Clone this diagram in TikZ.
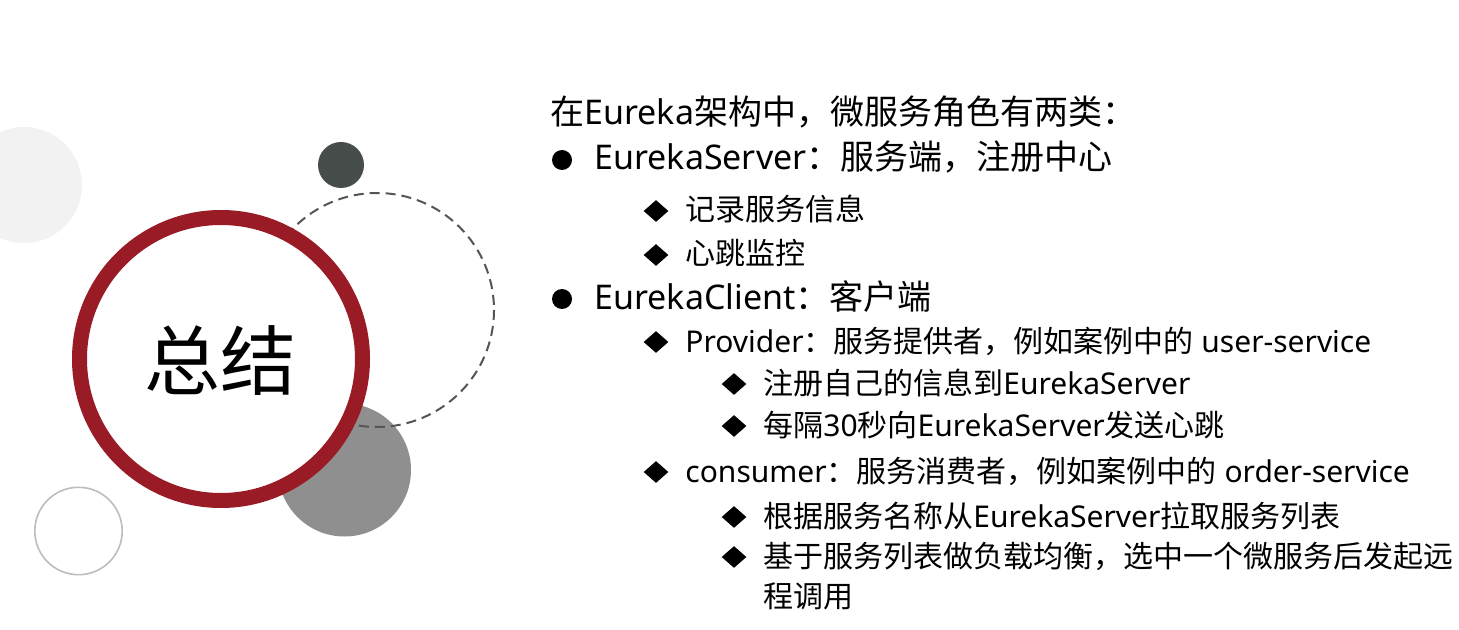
\documentclass[tikz,border=0pt]{standalone}
\usepackage{fontspec}
\setmainfont{Noto Sans CJK SC}
\newfontfamily\latfont{Noto Sans}
\newcommand{\en}[1]{{\latfont #1}}
\usetikzlibrary{shapes.geometric}

\definecolor{ringred}{HTML}{981B25}
\definecolor{softgray}{HTML}{F2F2F2}
\definecolor{darkdot}{HTML}{474D4A}
\definecolor{midgray}{HTML}{8F8F8F}
\definecolor{dashgray}{HTML}{555555}
\definecolor{linegray}{HTML}{BDBDBD}

\tikzset{
  big/.style={anchor=west, inner sep=0pt, text height=1em, text depth=0em,
    font=\fontsize{17}{20}\selectfont},
  small/.style={anchor=west, inner sep=0pt, text height=1em, text depth=0em,
    font=\fontsize{15}{20}\selectfont},
  dot/.style={circle, fill=black, inner sep=0pt, minimum size=10pt},
  diam/.style={diamond, fill=black, inner sep=0pt, minimum width=12.5pt, minimum height=11pt},
}

\begin{document}
\begin{tikzpicture}[x=0.5pt,y=-0.5pt]

\useasboundingbox (0,0) rectangle (1459,630);
\fill[white] (0,0) rectangle (1459,630);

% circles on the left
\fill[softgray] (24,185) circle (58);
\fill[darkdot] (341,165) circle (23);
\fill[midgray] (344.5,470) circle (66.5);
\draw[dashgray,line width=1pt,dash pattern=on 5pt off 3pt] (377,310) circle (117);
\draw[linegray,line width=0.8pt] (78.5,531) circle (43.7);
\draw[ringred,line width=7.5pt,fill=white] (221,359) circle (141.5);
\node[inner sep=0pt,font=\fontsize{38}{40}\selectfont] (T) at (220,361) {总结};

% text on the right
\node[big] (R) at (550,115) {在\en{Eureka}架构中，微服务角色有两类：};

\node[dot] (S0) at (562,160) {};
\node[big] (S) at (594,160) {\en{EurekaServer}：服务端，注册中心};
\node[diam] (S1d) at (656,211) {};
\node[small] (S1) at (685,211) {记录服务信息};
\node[diam] (S2d) at (656,255) {};
\node[small] (S2) at (685,255) {心跳监控};

\node[dot] (C0) at (562,299) {};
\node[big] (C) at (594,299) {\en{EurekaClient}：客户端};
\node[diam] (Pd) at (656,342) {};
\node[small] (P) at (685,342) {\en{Provider}：服务提供者，例如案例中的\en{ user-service}};
\node[diam] (P1d) at (734,384) {};
\node[small] (P1) at (763,384) {注册自己的信息到\en{EurekaServer}};
\node[diam] (P2d) at (734,426) {};
\node[small] (P2) at (763,426) {每隔\en{30}秒向\en{EurekaServer}发送心跳};

\node[diam] (Kd) at (656,472) {};
\node[small] (K) at (685,472) {\en{consumer}：服务消费者，例如案例中的\en{ order-service}};
\node[diam] (K1d) at (734,517) {};
\node[small] (K1) at (763,517) {根据服务名称从\en{EurekaServer}拉取服务列表};
\node[diam] (K2d) at (734,557) {};
\node[small] (K2) at (763,557) {基于服务列表做负载均衡，选中一个微服务后发起远};
\node[small] (K3) at (763,597) {程调用};

\end{tikzpicture}
\end{document}
